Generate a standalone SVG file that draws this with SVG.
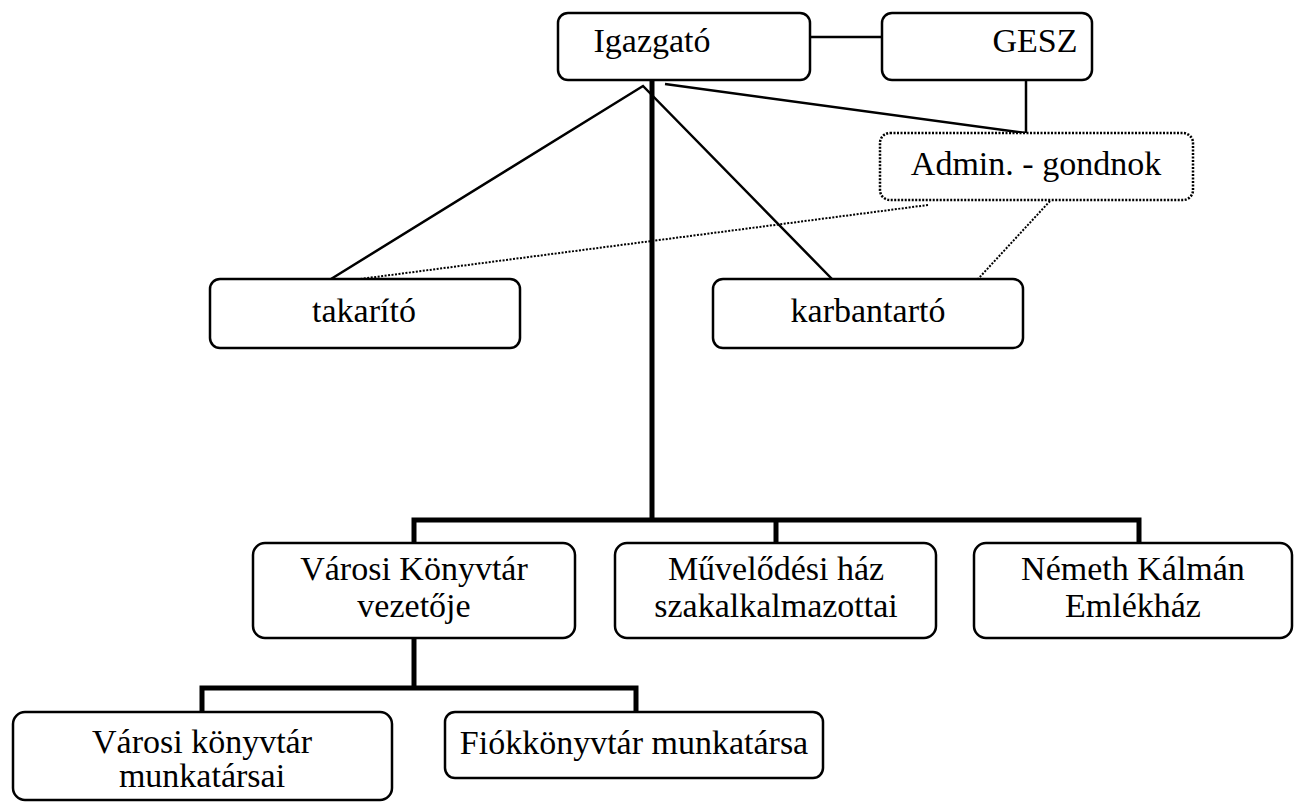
<svg xmlns="http://www.w3.org/2000/svg" width="1295" height="803" viewBox="0 0 1295 803">
<style>
.box{fill:#fff;stroke:#000;stroke-width:2.5}
.dot{fill:#fff;stroke:#000;stroke-width:2.5;stroke-dasharray:2 1.5}
.t{font-family:"Liberation Serif","Times New Roman",serif;font-size:34px;fill:#000;text-anchor:middle}
.thin{stroke:#000;stroke-width:2.5;fill:none}
.thick{stroke:#000;stroke-width:5;fill:none}
.dl{stroke:#000;stroke-width:2;stroke-dasharray:2 1.5;fill:none}
</style>
<rect width="1295" height="803" fill="#fff"/>
<g id="connectors">
<line class="thin" x1="810" y1="37" x2="882" y2="37"/>
<line class="thin" x1="1026" y1="80" x2="1026" y2="133"/>
<line class="thin" x1="665" y1="84" x2="1026" y2="133"/>
<polyline class="thin" points="331,279 643,86 832,279"/>
<line class="dl" x1="928" y1="205" x2="360" y2="279"/>
<line class="dl" x1="1050" y1="201" x2="978" y2="279"/>
<line class="thick" x1="652" y1="80" x2="652" y2="520"/>
<polyline class="thick" points="414,543 414,520 1139,520 1139,543"/>
<line class="thick" x1="776" y1="520" x2="776" y2="543"/>
<line class="thick" x1="414" y1="638" x2="414" y2="688"/>
<polyline class="thick" points="202,712 202,688 636,688 636,712"/>
</g>
<g id="igazgato"><rect class="box" x="558" y="13" width="252" height="67" rx="10"/><text class="t" x="652" y="52">Igazgató</text></g>
<g id="gesz"><rect class="box" x="882" y="13" width="210" height="67" rx="10"/><text class="t" x="1035" y="52">GESZ</text></g>
<g id="admin"><rect class="dot" x="880" y="133" width="313" height="67" rx="10"/><text class="t" x="1036" y="175">Admin. - gondnok</text></g>
<g id="takarito"><rect class="box" x="210" y="279" width="310" height="69" rx="10"/><text class="t" x="364" y="322">takarító</text></g>
<g id="karbantarto"><rect class="box" x="713" y="279" width="310" height="69" rx="10"/><text class="t" x="868" y="322">karbantartó</text></g>
<g id="varosi-vezeto"><rect class="box" x="253" y="543" width="322" height="95" rx="12"/><text class="t" x="414" y="580">Városi Könyvtár</text><text class="t" x="414" y="617">vezetője</text></g>
<g id="muvelodesi"><rect class="box" x="615" y="543" width="321" height="95" rx="12"/><text class="t" x="776" y="580">Művelődési ház</text><text class="t" x="776" y="617">szakalkalmazottai</text></g>
<g id="nemeth"><rect class="box" x="974" y="543" width="318" height="95" rx="12"/><text class="t" x="1133" y="580">Németh Kálmán</text><text class="t" x="1133" y="617">Emlékház</text></g>
<g id="varosi-munkatarsai"><rect class="box" x="13" y="712" width="379" height="88" rx="12"/><text class="t" x="202" y="753">Városi könyvtár</text><text class="t" x="202" y="787">munkatársai</text></g>
<g id="fiok"><rect class="box" x="445" y="712" width="378" height="66" rx="10"/><text class="t" x="634" y="754">Fiókkönyvtár munkatársa</text></g>
</svg>
